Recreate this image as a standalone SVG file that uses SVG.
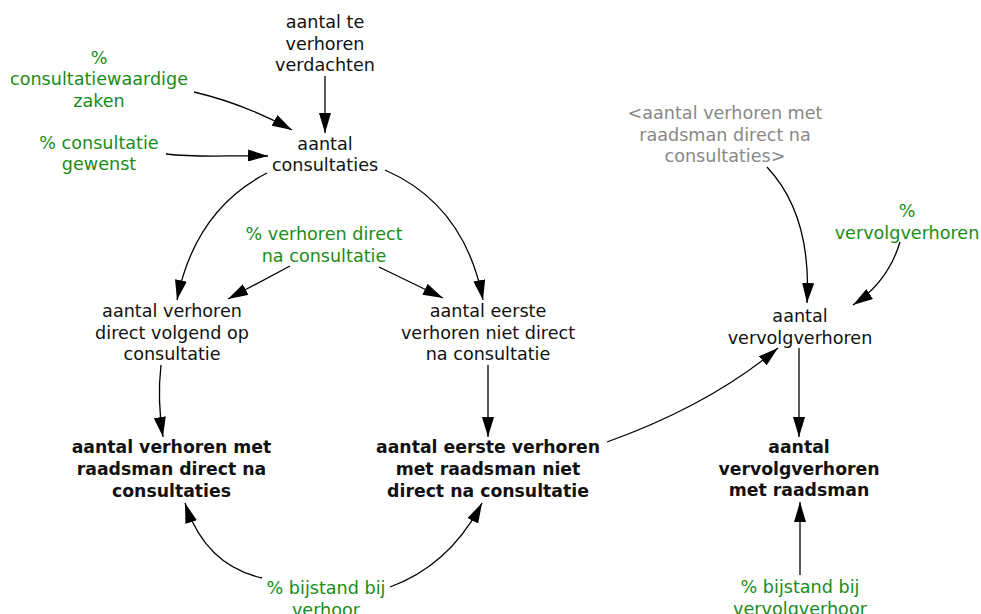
<svg xmlns="http://www.w3.org/2000/svg" width="981" height="614" viewBox="0 0 981 614">
<defs>
<marker id="ah" markerUnits="userSpaceOnUse" markerWidth="20" markerHeight="12" refX="20" refY="6" orient="auto" viewBox="0 0 20 12">
<path d="M0,0 L20,6 L0,12 z" fill="#000"/>
</marker>
<style>
text{font-family:"DejaVu Sans",Verdana,sans-serif;font-size:17.6px;text-anchor:middle;fill:#111}
.g{fill:#1a8c1a}
.s{fill:#888}
.b{font-weight:bold;font-size:17.3px}
.c path{fill:none;stroke:#000;stroke-width:1.3;marker-end:url(#ah)}
</style>
</defs>
<rect width="981" height="614" fill="#fff"/>
<g id="connectors" class="c">
<path d="M325,76 L325,133"/>
<path d="M194,92 Q245,104 292,130"/>
<path d="M166,154 C200,158 230,155 268,156"/>
<path d="M267,173 Q195,210 177,300"/>
<path d="M385,170 Q465,205 483,300"/>
<path d="M290,266 L228,299"/>
<path d="M379,267 L443,298"/>
<path d="M161,365 Q157,400 163,437"/>
<path d="M488,365 L488,437"/>
<path d="M607,442 Q710,405 778,348"/>
<path d="M799,348 L799,437"/>
<path d="M262,578 Q205,565 185,503"/>
<path d="M390,587 Q450,565 482,503"/>
<path d="M767,167 Q812,215 807,303"/>
<path d="M900,242 Q888,282 853,305"/>
<path d="M800,575 L800,502"/>
</g>
<g id="n_verdachten"><text x="325" y="28">aantal te<tspan x="325" dy="21.5">verhoren</tspan><tspan x="325" dy="21.5">verdachten</tspan></text></g>
<g id="n_consultatiewaardig"><text class="g" x="99" y="63.5">%<tspan x="99" dy="21.5">consultatiewaardige</tspan><tspan x="99" dy="21.5">zaken</tspan></text></g>
<g id="n_consultatie_gewenst"><text class="g" x="99" y="148.5">% consultatie<tspan x="99" dy="21.5">gewenst</tspan></text></g>
<g id="n_consultaties"><text x="325" y="149.5">aantal<tspan x="325" dy="21.5">consultaties</tspan></text></g>
<g id="n_pct_direct"><text class="g" x="324" y="240">% verhoren direct<tspan x="324" dy="21.5">na consultatie</tspan></text></g>
<g id="n_direct_volgend"><text x="172" y="317">aantal verhoren<tspan x="172" dy="21.5">direct volgend op</tspan><tspan x="172" dy="21.5">consultatie</tspan></text></g>
<g id="n_eerste_niet_direct"><text x="488" y="317">aantal eerste<tspan x="488" dy="21.5">verhoren niet direct</tspan><tspan x="488" dy="21.5">na consultatie</tspan></text></g>
<g id="n_shadow"><text class="s" x="725" y="119">&lt;aantal verhoren met<tspan x="725" dy="21.5">raadsman direct na</tspan><tspan x="725" dy="21.5">consultaties&gt;</tspan></text></g>
<g id="n_pct_vervolg"><text class="g" x="907" y="217">%<tspan x="907" dy="21.5">vervolgverhoren</tspan></text></g>
<g id="n_vervolgverhoren"><text x="800" y="322">aantal<tspan x="800" dy="21.5">vervolgverhoren</tspan></text></g>
<g id="n_raadsman_direct"><text class="b" x="171.5" y="453">aantal verhoren met<tspan x="171.5" dy="22">raadsman direct na</tspan><tspan x="171.5" dy="22">consultaties</tspan></text></g>
<g id="n_raadsman_niet_direct"><text class="b" x="488" y="453">aantal eerste verhoren<tspan x="488" dy="22">met raadsman niet</tspan><tspan x="488" dy="22">direct na consultatie</tspan></text></g>
<g id="n_vervolg_raadsman"><text class="b" x="799" y="453">aantal<tspan x="799" dy="21.5">vervolgverhoren</tspan><tspan x="799" dy="21.5">met raadsman</tspan></text></g>
<g id="n_bijstand"><text class="g" x="326" y="594">% bijstand bij<tspan x="326" dy="21.5">verhoor</tspan></text></g>
<g id="n_bijstand_vervolg"><text class="g" x="800" y="593">% bijstand bij<tspan x="800" dy="21.5">vervolgverhoor</tspan></text></g>
</svg>
